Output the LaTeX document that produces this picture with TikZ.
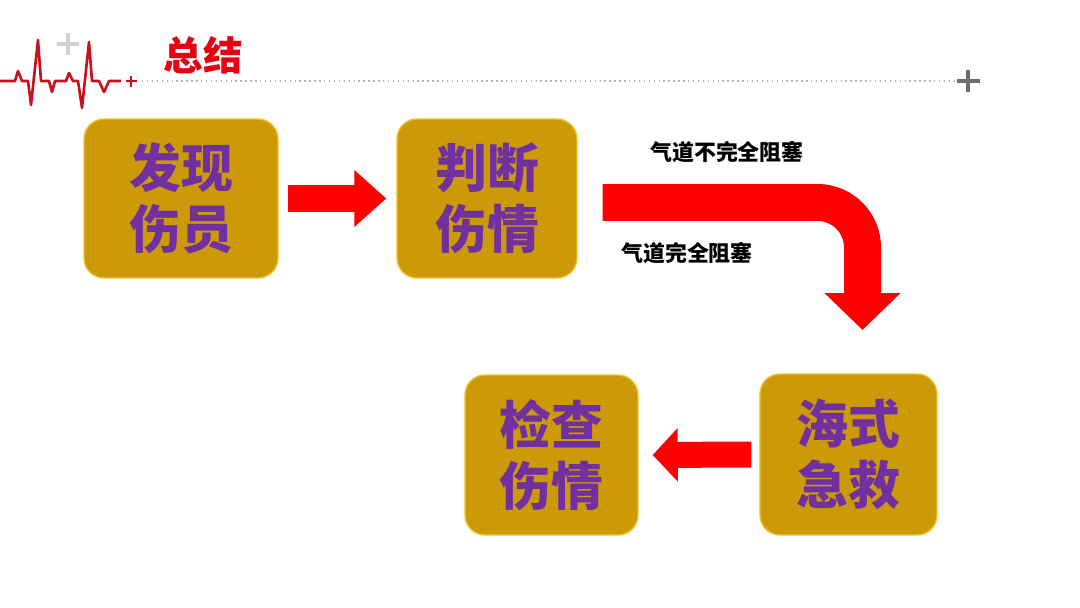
\documentclass[tikz,border=0pt]{standalone}
\usepackage{fontspec}
\newfontfamily\cjk{Noto Sans CJK SC}
\usetikzlibrary{arrows.meta,calc}
\definecolor{boxgold}{RGB}{204,154,6}
\definecolor{boxedge}{RGB}{235,195,40}
\definecolor{txtpurple}{RGB}{112,48,160}
\definecolor{arrred}{RGB}{255,0,0}
\definecolor{beatred}{RGB}{200,16,30}
\definecolor{titlered}{RGB}{230,0,18}
\tikzset{
  stepbox/.style={draw=boxedge, line width=0.8pt, fill=boxgold, rounded corners=0.4cm,
    text=txtpurple, align=center, inner sep=0pt,
    font=\cjk\bfseries\fontsize{29.5pt}{35pt}\selectfont},
  fatarrow/.style={draw=arrred, line cap=butt},
  lbl/.style={font=\cjk\bfseries\fontsize{12.5pt}{14pt}\selectfont, text=black, inner sep=0pt},
}
\begin{document}
\begin{tikzpicture}[x=0.02cm,y=-0.02cm]
\useasboundingbox (0,0) rectangle (1080,608);
\fill[white] (0,0) rectangle (1080,608);

% header
\draw[beatred, line width=1.5pt, line join=round]
  (0,81) -- (15,81) -- (18,71) -- (22,81) -- (28,81) -- (31,105) -- (38,40) -- (41,81)
  -- (49,81) -- (52,92) -- (55,81) -- (66,81) -- (69,73) -- (73,81) -- (78,81)
  -- (82,108) -- (89,42) -- (92,81) -- (99,81) -- (104,92) -- (109,81) -- (121,81);
\draw[beatred, line width=1.2pt] (126,81) -- (137,81) (131,76) -- (131,87);
\draw[gray!35, line width=2.5pt] (57,44) -- (79,44) (68,33) -- (68,55);
\node[font=\cjk\bfseries\fontsize{22.5pt}{26pt}\selectfont, text=titlered, inner sep=0pt] (title) at (203,55) {总结};
\draw[gray!60, dotted, line width=0.8pt] (142,81) -- (955,81);
\draw[gray!85!black, line width=2.5pt] (957,81) -- (980,81) (968,70) -- (968,92);

% boxes
\node[stepbox, minimum width=3.88cm, minimum height=3.18cm] (a) at (181,198.5) {发现\\伤员};
\node[stepbox, minimum width=3.6cm, minimum height=3.18cm] (b) at (487,198.5) {判断\\伤情};
\node[stepbox, minimum width=3.46cm, minimum height=3.2cm] (c) at (551.5,455) {检查\\伤情};
\node[stepbox, minimum width=3.54cm, minimum height=3.22cm] (d) at (848.5,454.5) {海式\\急救};

% arrows
\draw[fatarrow, line width=0.56cm, -{Triangle[width=1.1cm,length=0.64cm]}]
  ($(a.east)+(9,0)$) -- ($(b.west)+(-10,0)$);
\coordinate (bendend) at (862.5,330);
\draw[fatarrow, line width=0.74cm, rounded corners=0.9cm, -{Triangle[width=1.48cm,length=0.74cm]}]
  ($(b.east)+(25,4)$) -| (bendend);
\draw[fatarrow, line width=0.52cm, -{Triangle[width=1.04cm,length=0.5cm]}]
  ($(d.west)+(-8,0)$) -- ($(c.east)+(14,0)$);

% labels
\node[lbl] (l1) at (727,152) {气道不完全阻塞};
\node[lbl] (l2) at (687,253) {气道完全阻塞};
\end{tikzpicture}
\end{document}
